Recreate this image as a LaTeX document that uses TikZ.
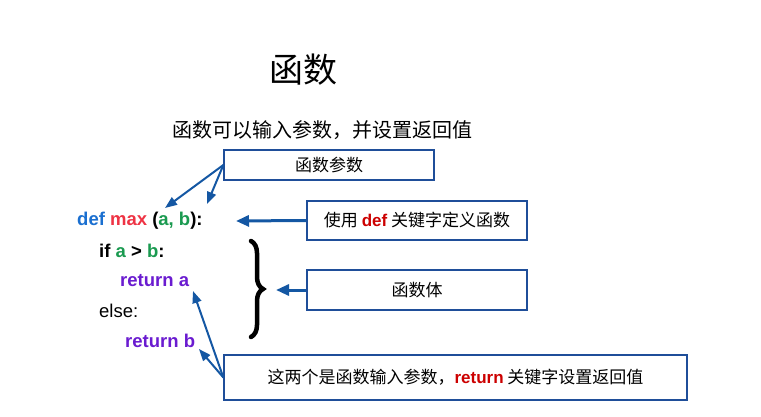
\documentclass[tikz,border=0pt]{standalone}
\usepackage{fontspec}
\setmainfont{Liberation Sans}
\newfontfamily\cjk{Noto Sans CJK SC}
\usetikzlibrary{arrows.meta,decorations.pathreplacing}
\definecolor{boxblue}{HTML}{1F4E99}
\definecolor{arrblue}{HTML}{1457A3}
\definecolor{kwblue}{HTML}{1A6FD0}
\definecolor{kwred}{HTML}{EE3344}
\definecolor{kwgreen}{HTML}{1A9A50}
\definecolor{kwpurple}{HTML}{6A1BD0}
\definecolor{darkred}{HTML}{CC0000}
\begin{document}
\begin{tikzpicture}[x=1pt,y=-1pt,
  infobox/.style={draw=boxblue,line width=1.3pt,rectangle,inner sep=0pt,font=\cjk\fontsize{17}{20}\selectfont},
  arr/.style={draw=arrblue,line width=3pt,-{Triangle[length=13pt,width=11pt]}},
  thinarr/.style={draw=arrblue,line width=2pt,-{Triangle[length=12pt,width=9pt]}},
  code/.style={anchor=west,inner sep=0pt,font=\fontsize{18.5}{20}\selectfont\bfseries}]
\useasboundingbox (0,0) rectangle (761,417);
\node (title) at (303,70) {\cjk\fontsize{34}{38}\selectfont 函数};
\node (sub) at (322,130) {\cjk\fontsize{20}{24}\selectfont 函数可以输入参数，并设置返回值};
\node[infobox,minimum width=210pt,minimum height=30pt] (bparam) at (329,165) {函数参数};
\node[infobox,minimum width=220pt,minimum height=39pt] (bdef) at (417,220.5) {使用 {\rmfamily\bfseries\color{darkred}def} 关键字定义函数};
\node[infobox,minimum width=220pt,minimum height=40pt] (bbody) at (417,290) {函数体};
\node[infobox,minimum width=463pt,minimum height=45pt] (bret) at (455.5,377.5) {这两个是函数输入参数，{\rmfamily\bfseries\color{darkred}return} 关键字设置返回值};
\node[code] (l1) at (77,221) {\textcolor{kwblue}{def} \textcolor{kwred}{max} (\textcolor{kwgreen}{a, b}):};
\node[code] (l2) at (99,251) {if \textcolor{kwgreen}{a} > \textcolor{kwgreen}{b}:};
\node[code,text=kwpurple] (l3) at (120,281) {return a};
\node[code,font=\fontsize{18.5}{20}\selectfont] (l4) at (99,311) {else:};
\node[code,text=kwpurple] (l5) at (125,341) {return b};
\draw[line width=4.5pt,line cap=round,decorate,decoration={brace,amplitude=12pt,raise=0pt}] (251,241) -- (251,337);
\coordinate (pa) at (165,208);
\coordinate (pb) at (207,204);
\coordinate (pdef) at (236,221);
\coordinate (pbody) at (276,290);
\coordinate (ra) at (193,291);
\coordinate (rb) at (199,349);
\draw[thinarr] (bparam.west) -- (pa);
\draw[thinarr] (bparam.west) -- (pb);
\draw[arr] (bdef.west) -- (pdef);
\draw[arr] (bbody.west) -- (pbody);
\draw[thinarr] (bret.west) -- (ra);
\draw[thinarr] (bret.west) -- (rb);
\end{tikzpicture}
\end{document}
